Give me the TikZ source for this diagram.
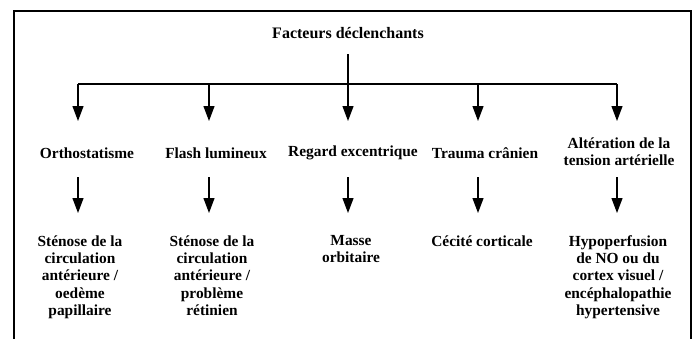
\documentclass[tikz,border=0pt]{standalone}
\usepackage{fontspec}
\setmainfont{Liberation Serif}
\usetikzlibrary{arrows.meta}
\begin{document}
\begin{tikzpicture}[x=1pt,y=-1pt,
  lbl/.style={font=\fontsize{15.4}{17.2}\selectfont\bfseries, align=center, inner sep=0pt},
  conn/.style={line width=1.2pt},
  arr/.style={line width=1.2pt, -{Triangle[length=15pt,width=11pt]}}]
\useasboundingbox (0,0) rectangle (698,338);
\fill[white] (0,0) rectangle (698,338);
\draw[line width=2.4pt] (14,340) -- (14,11) -- (691,11) -- (691,340);

\node[lbl, font=\fontsize{16}{18}\selectfont\bfseries] (title) at (348,33) {Facteurs déclenchants};

\node[lbl] (o1) at (87,153) {Orthostatisme};
\node[lbl] (o2) at (216,153) {Flash lumineux};
\node[lbl] (o3) at (353,153) {Regard excentrique};
\node[lbl] (o4) at (485,153) {Trauma crânien};
\node[lbl, anchor=north] (o5) at (619,137.5) {Altération de la\\tension artérielle};

\node[lbl, anchor=north] (b1) at (80,235.5) {Sténose de la\\circulation\\antérieure /\\oedème\\papillaire};
\node[lbl, anchor=north] (b2) at (212,235.5) {Sténose de la\\circulation\\antérieure /\\problème\\rétinien};
\node[lbl, anchor=north] (b3) at (351,235.5) {Masse\\orbitaire};
\node[lbl, anchor=north] (b4) at (482,235.5) {Cécité corticale};
\node[lbl, anchor=north] (b5) at (618,235.5) {Hypoperfusion\\de NO ou du\\cortex visuel /\\encéphalopathie\\hypertensive};

\coordinate (top) at (348,54);
\coordinate (h) at (348,84);
\foreach \i/\x in {1/78,2/209,3/348,4/478,5/617}{
  \coordinate (s\i) at (\x,84);
  \coordinate (e\i) at (\x,121);
  \coordinate (u\i) at (\x,177);
  \coordinate (d\i) at (\x,213);
}
\draw[conn] (top) -- (h);
\draw[conn] (s1) -- (s5);
\foreach \i in {1,...,5}{
  \draw[arr] (s\i) -- (e\i);
  \draw[arr] (u\i) -- (d\i);
}
\end{tikzpicture}
\end{document}
